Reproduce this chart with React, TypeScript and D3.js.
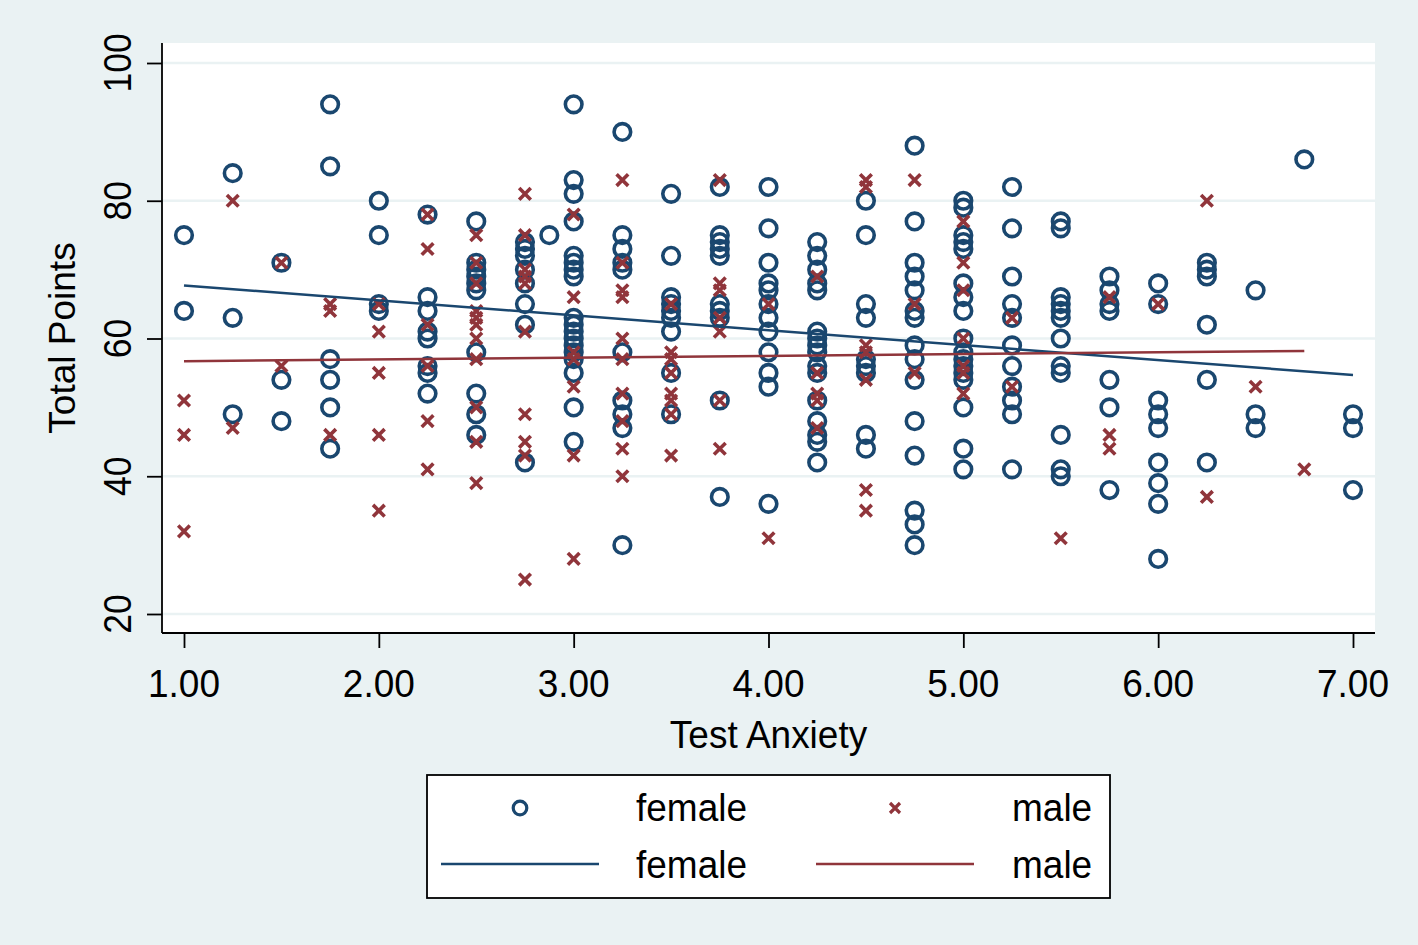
import React, { useEffect, useRef } from "react";
import * as d3 from "d3";

// test anxiety levels (x) with the total points of each student at that level
const levels = [1, 1.25, 1.5, 1.75, 2, 2.25, 2.5, 2.75, 2.875, 3, 3.25, 3.5, 3.75, 4, 4.25, 4.5, 4.75, 5, 5.25, 5.5, 5.75, 6, 6.25, 6.5, 6.75, 7];

const femaleScores = [
  [75, 64],
  [84, 63, 49],
  [71, 54, 48],
  [94, 85, 57, 54, 50, 44],
  [80, 75, 65, 64],
  [78, 66, 64, 61, 60, 56, 55, 52],
  [77, 71, 70, 69, 68, 67, 58, 52, 49, 46],
  [74, 73, 72, 70, 68, 65, 62, 42],
  [75],
  [94, 83, 81, 77, 72, 71, 70, 69, 63, 62, 61, 60, 59, 58, 57, 55, 50, 45],
  [90, 75, 73, 71, 70, 58, 51, 49, 47, 30],
  [81, 72, 66, 65, 64, 63, 61, 55, 49],
  [82, 75, 74, 73, 72, 65, 64, 63, 51, 37],
  [82, 76, 71, 68, 67, 65, 63, 61, 58, 55, 53, 36],
  [74, 72, 70, 68, 67, 61, 60, 59, 58, 56, 55, 51, 48, 46, 45, 42],
  [80, 75, 65, 63, 57, 56, 55, 46, 44],
  [88, 77, 71, 69, 67, 64, 63, 59, 57, 54, 48, 43, 35, 33, 30],
  [80, 79, 75, 74, 73, 68, 66, 64, 60, 58, 57, 56, 55, 54, 50, 44, 41],
  [82, 76, 69, 65, 63, 59, 56, 53, 51, 49, 41],
  [77, 76, 66, 65, 64, 63, 60, 56, 55, 46, 41, 40],
  [69, 67, 65, 64, 54, 50, 38],
  [68, 65, 51, 49, 47, 42, 39, 36, 28],
  [71, 70, 69, 62, 54, 42],
  [67, 49, 47],
  [86],
  [49, 47, 38],
];

const maleScores = [
  [51, 46, 32],
  [80, 47],
  [71, 56],
  [65, 64, 46],
  [65, 61, 55, 46, 35],
  [78, 73, 62, 56, 48, 41],
  [75, 71, 68, 64, 63, 62, 60, 57, 50, 45, 39],
  [81, 75, 70, 69, 68, 61, 49, 45, 43, 25],
  [],
  [78, 66, 58, 57, 53, 43, 28],
  [83, 71, 67, 66, 60, 57, 52, 48, 44, 40],
  [65, 58, 57, 55, 52, 51, 49, 43],
  [83, 68, 67, 63, 61, 51, 44],
  [65, 31],
  [69, 55, 52, 51, 47],
  [83, 82, 59, 58, 54, 38, 35],
  [83, 65, 55],
  [77, 71, 67, 60, 56, 55, 52],
  [63, 53],
  [31],
  [66, 46, 44],
  [65],
  [80, 37],
  [53],
  [41],
  [],
];

// linear fit lines (end points)
const femaleFit = [[1, 67.7], [7, 54.7]];
const maleFit = [[1, 56.7], [6.75, 58.2]];

const xTicks = [1, 2, 3, 4, 5, 6, 7];
const yTicks = [20, 40, 60, 80, 100];

const NAVY = "#1a476f";
const MAROON = "#90353b";
const BG = "#eaf2f3";
const FONT = "'Liberation Sans', Arial, sans-serif";
const FS = 37;

const App = () => {
  const ref = useRef<SVGSVGElement>(null);

  useEffect(() => {
    const svg = d3.select(ref.current);
    svg.selectAll("*").remove();

    const width = 1418;
    const height = 945;
    const plot = { left: 162, right: 1375, top: 43, bottom: 633 };

    svg.attr("width", width).attr("height", height);

    const x = d3.scaleLinear().domain([1, 7]).range([184, 1353]);
    const y = d3.scaleLinear().domain([20, 100]).range([614, 63]);

    svg.append("rect").attr("width", width).attr("height", height).attr("fill", BG);
    svg.append("rect")
      .attr("x", plot.left)
      .attr("y", plot.top)
      .attr("width", plot.right - plot.left)
      .attr("height", plot.bottom - plot.top)
      .attr("fill", "white");

    // grid
    svg.selectAll("line.grid")
      .data(yTicks)
      .enter()
      .append("line")
      .attr("x1", plot.left)
      .attr("x2", plot.right)
      .attr("y1", d => y(d))
      .attr("y2", d => y(d))
      .attr("stroke", BG)
      .attr("stroke-width", 2.5);

    // axes
    const axisY = svg.append("g").attr("transform", `translate(${plot.left},0)`);
    axisY.call(d3.axisLeft(y).tickValues(yTicks).tickSize(15).tickFormat(() => ""));
    axisY.select(".domain").attr("d", `M0,${plot.top}V${plot.bottom}`).attr("stroke-width", 1.8);
    axisY.selectAll(".tick line").attr("stroke-width", 1.8);

    const axisX = svg.append("g").attr("transform", `translate(0,${plot.bottom})`);
    axisX.call(d3.axisBottom(x).tickValues(xTicks).tickSize(15).tickFormat(() => ""));
    axisX.select(".domain").attr("d", `M${plot.left},0H${plot.right}`).attr("stroke-width", 1.8);
    axisX.selectAll(".tick line").attr("stroke-width", 1.8);

    // text is a little taller than wide in the original, stretch it slightly
    svg.selectAll("text.ylab")
      .data(yTicks)
      .enter()
      .append("text")
      .attr("transform", d => `translate(131,${y(d)}) rotate(-90) scale(0.96,1.06)`)
      .attr("text-anchor", "middle")
      .attr("font-family", FONT)
      .attr("font-size", FS)
      .text(d => d);

    svg.selectAll("text.xlab")
      .data(xTicks)
      .enter()
      .append("text")
      .attr("transform", d => `translate(${x(d)},697) scale(1,1.06)`)
      .attr("text-anchor", "middle")
      .attr("font-family", FONT)
      .attr("font-size", FS)
      .text(d => d3.format(".2f")(d));

    svg.append("text")
      .attr("transform", `translate(${(plot.left + plot.right) / 2},748) scale(1,1.06)`)
      .attr("text-anchor", "middle")
      .attr("font-family", FONT)
      .attr("font-size", FS)
      .text("Test Anxiety");

    svg.append("text")
      .attr("transform", `translate(75,${(plot.top + plot.bottom) / 2}) rotate(-90)`)
      .attr("text-anchor", "middle")
      .attr("font-family", FONT)
      .attr("font-size", FS)
      .text("Total Points");

    // points
    const female = levels.flatMap((lv, i) => femaleScores[i].map(v => ({ x: lv, y: v })));
    const male = levels.flatMap((lv, i) => maleScores[i].map(v => ({ x: lv, y: v })));

    svg.selectAll("circle.female")
      .data(female)
      .enter()
      .append("circle")
      .attr("cx", d => x(d.x))
      .attr("cy", d => y(d.y))
      .attr("r", 8.3)
      .attr("fill", "none")
      .attr("stroke", NAVY)
      .attr("stroke-width", 3.6);

    const cross = (g, cx, cy, s, w) => {
      g.append("path")
        .attr("d", `M${cx - s},${cy - s}L${cx + s},${cy + s}M${cx - s},${cy + s}L${cx + s},${cy - s}`)
        .attr("stroke", MAROON)
        .attr("stroke-width", w)
        .attr("fill", "none");
    };
    const maleG = svg.append("g");
    male.forEach(d => cross(maleG, x(d.x), y(d.y), 5.8, 3.6));

    // fit lines
    const line = d3.line<number[]>().x(d => x(d[0])).y(d => y(d[1]));
    svg.append("path").attr("d", line(femaleFit)).attr("stroke", NAVY).attr("stroke-width", 2.5).attr("fill", "none");
    svg.append("path").attr("d", line(maleFit)).attr("stroke", MAROON).attr("stroke-width", 2.5).attr("fill", "none");

    // legend
    const lg = svg.append("g");
    lg.append("rect")
      .attr("x", 427)
      .attr("y", 775)
      .attr("width", 683)
      .attr("height", 123)
      .attr("fill", "white")
      .attr("stroke", "black")
      .attr("stroke-width", 1.8);
    lg.append("circle").attr("cx", 520).attr("cy", 808).attr("r", 6.8).attr("fill", "none").attr("stroke", NAVY).attr("stroke-width", 3.2);
    cross(lg, 895, 808, 5, 3.2);
    lg.append("line").attr("x1", 441).attr("x2", 599).attr("y1", 864).attr("y2", 864).attr("stroke", NAVY).attr("stroke-width", 2.5);
    lg.append("line").attr("x1", 816).attr("x2", 974).attr("y1", 864).attr("y2", 864).attr("stroke", MAROON).attr("stroke-width", 2.5);
    const legendText = [
      { t: "female", x: 636, y: 821 },
      { t: "male", x: 1012, y: 821 },
      { t: "female", x: 636, y: 878 },
      { t: "male", x: 1012, y: 878 },
    ];
    lg.selectAll("text")
      .data(legendText)
      .enter()
      .append("text")
      .attr("transform", d => `translate(${d.x},${d.y}) scale(1,1.06)`)
      .attr("font-family", FONT)
      .attr("font-size", FS)
      .text(d => d.t);
  }, []);

  return <svg ref={ref} style={{ position: "absolute", left: 0, top: 0 }}></svg>;
};

export default App;
